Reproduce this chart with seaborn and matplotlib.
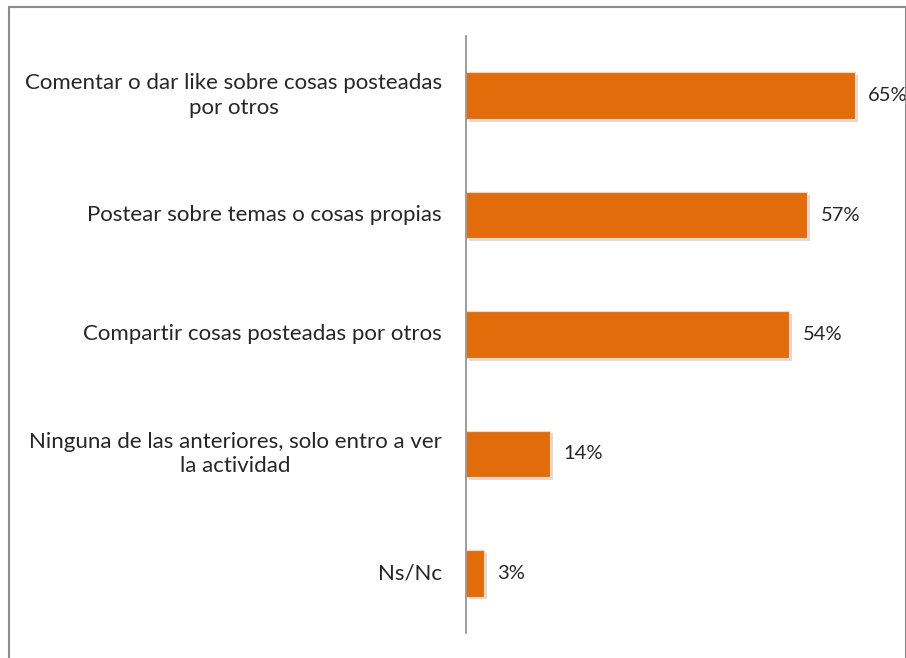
import pandas as pd
import seaborn as sns
import matplotlib.pyplot as plt
import matplotlib.patheffects as pe
from matplotlib.patches import Rectangle

# Datos
categorias = [
    "Comentar o dar like sobre cosas posteadas\npor otros",
    "Postear sobre temas o cosas propias",
    "Compartir cosas posteadas por otros",
    "Ninguna de las anteriores, solo entro a ver\nla actividad",
    "Ns/Nc",
]
valores = [65, 57, 54, 14, 3]
etiquetas = ["65%", "57%", "54%", "14%", "3%"]

df = pd.DataFrame({"categoria": categorias, "valor": valores})

sns.set_style("white")
plt.rcParams["font.family"] = ["Lato", "DejaVu Sans"]

fig = plt.figure(figsize=(9.06, 6.58), dpi=100)
ax = fig.add_axes([466 / 906, 1 - 633 / 658, 440 / 906, 597 / 658])

sns.barplot(data=df, x="valor", y="categoria", color="#E36C0A", saturation=1,
            width=0.39, edgecolor="#F8D9C0", linewidth=0.8, ax=ax)

sombra = [pe.SimplePatchShadow(offset=(2, -2), shadow_rgbFace="#B8B8B8", alpha=0.5), pe.Normal()]
for barra in ax.patches:
    barra.set_path_effects(sombra)

for i, (v, txt) in enumerate(zip(valores, etiquetas)):
    ax.text(v + 2.2, i, txt, va="center", ha="left", fontsize=14.5,
            color="#262626", clip_on=False)

ax.set_xlim(0, 73.5)
ax.set_ylim(4.5, -0.5)
ax.set_xlabel("")
ax.set_ylabel("")
ax.set_xticks([])
ax.set_yticks([])
for lado in ["top", "right", "bottom"]:
    ax.spines[lado].set_visible(False)
ax.spines["left"].set_color("#8C8C8C")
ax.spines["left"].set_linewidth(1.2)

# Etiquetas de categorías, centradas y alineadas a la derecha del eje
for i, cat in enumerate(categorias):
    ax.text(-24 / 5.99, i, cat, ha="right", va="center", multialignment="center",
            fontsize=16, color="#262626", linespacing=1.3, clip_on=False)

# Marco del gráfico
fig.patches.append(Rectangle((8.5 / 906, -0.05), 897 / 906, 1 - 6.5 / 658 + 0.05,
                             transform=fig.transFigure, fill=False,
                             edgecolor="#8C8C8C", linewidth=1.5))

plt.savefig("out.png", dpi=100)
